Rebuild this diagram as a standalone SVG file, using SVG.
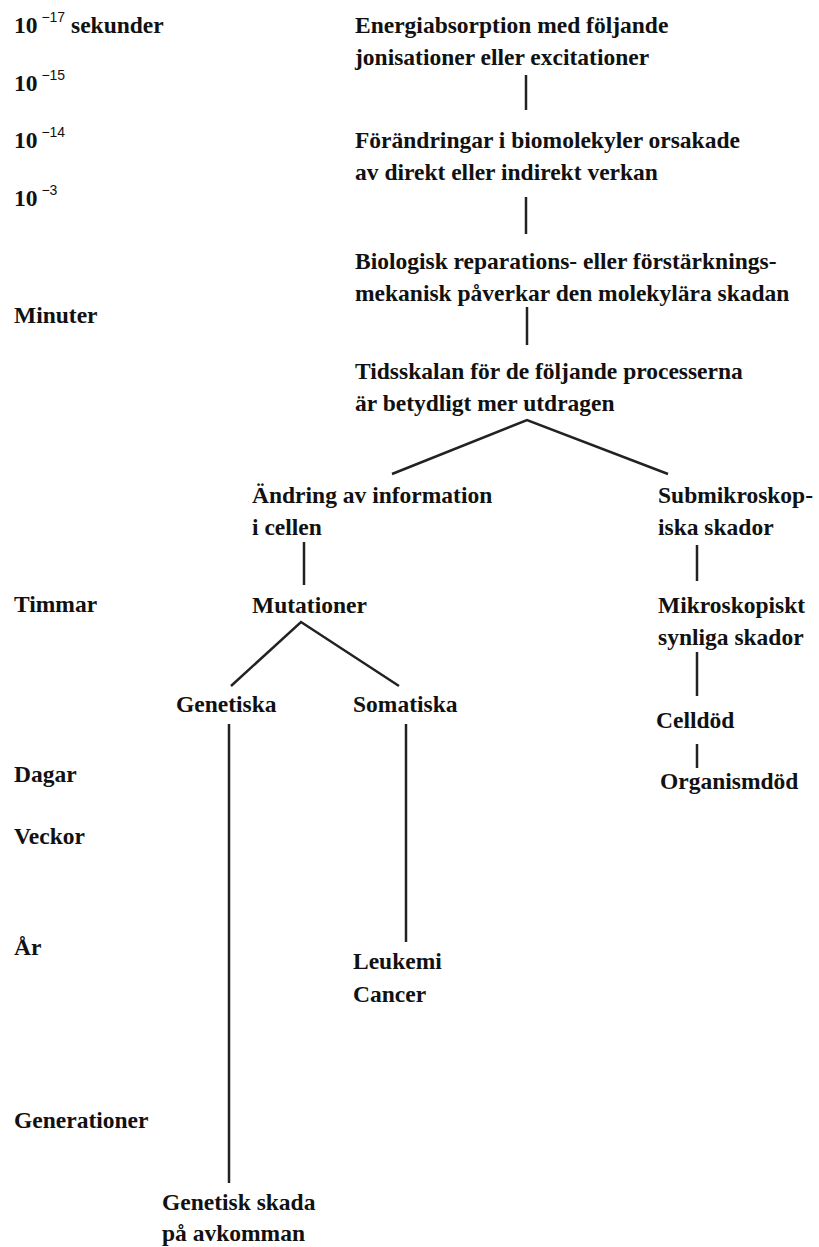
<svg xmlns="http://www.w3.org/2000/svg" width="819" height="1247" viewBox="0 0 819 1247">
<style>
text{font-family:"Liberation Serif","Times New Roman",serif;font-weight:bold;font-size:23.5px;fill:#111}
.sup{font-family:"Liberation Sans",Arial,sans-serif;font-weight:normal;font-size:14px}
.c{stroke:#222;stroke-width:2.5;fill:none}
</style>
<rect width="819" height="1247" fill="#fff"/>
<g id="timescale">
<text x="14" y="33">10<tspan class="sup" dy="-11"> −17</tspan><tspan dy="11"> sekunder</tspan></text>
<text x="14" y="91">10<tspan class="sup" dy="-11"> −15</tspan></text>
<text x="14" y="148">10<tspan class="sup" dy="-11"> −14</tspan></text>
<text x="14" y="206">10<tspan class="sup" dy="-11"> −3</tspan></text>
<text x="14" y="323">Minuter</text>
<text x="14" y="612">Timmar</text>
<text x="14" y="782">Dagar</text>
<text x="14" y="844">Veckor</text>
<text x="14" y="955">År</text>
<text x="14" y="1128">Generationer</text>
</g>
<g id="n1"><text x="355" y="33">Energiabsorption med följande</text><text x="355" y="65">jonisationer eller excitationer</text></g>
<g id="n2"><text x="355" y="148">Förändringar i biomolekyler orsakade</text><text x="355" y="180">av direkt eller indirekt verkan</text></g>
<g id="n3"><text x="355" y="269">Biologisk reparations- eller förstärknings-</text><text x="355" y="301">mekanisk påverkar den molekylära skadan</text></g>
<g id="n4"><text x="355" y="379">Tidsskalan för de följande processerna</text><text x="355" y="411">är betydligt mer utdragen</text></g>
<g id="n5"><text x="252" y="503">Ändring av information</text><text x="252" y="535">i cellen</text></g>
<g id="n6"><text x="252" y="613">Mutationer</text></g>
<g id="n7"><text x="176" y="712">Genetiska</text></g>
<g id="n8"><text x="353" y="712">Somatiska</text></g>
<g id="n9"><text x="353" y="969">Leukemi</text><text x="353" y="1002">Cancer</text></g>
<g id="n10"><text x="162" y="1210">Genetisk skada</text><text x="162" y="1241">på avkomman</text></g>
<g id="n11"><text x="658" y="503">Submikroskop-</text><text x="658" y="535">iska skador</text></g>
<g id="n12"><text x="658" y="613">Mikroskopiskt</text><text x="658" y="645">synliga skador</text></g>
<g id="n13"><text x="656" y="728">Celldöd</text></g>
<g id="n14"><text x="660" y="789">Organismdöd</text></g>
<g id="connectors" class="c">
<line x1="526" y1="75" x2="526" y2="110"/>
<line x1="526" y1="197" x2="526" y2="234"/>
<line x1="527" y1="307" x2="527" y2="345"/>
<polyline points="392,474 527,420 668,474"/>
<line x1="304" y1="542" x2="304" y2="585"/>
<polyline points="231,686 301,622 399,686"/>
<line x1="229" y1="724" x2="229" y2="1183"/>
<line x1="406" y1="724" x2="406" y2="942"/>
<line x1="697" y1="545" x2="697" y2="581"/>
<line x1="697" y1="652" x2="697" y2="696"/>
<line x1="697" y1="744" x2="697" y2="768"/>
</g>
</svg>
